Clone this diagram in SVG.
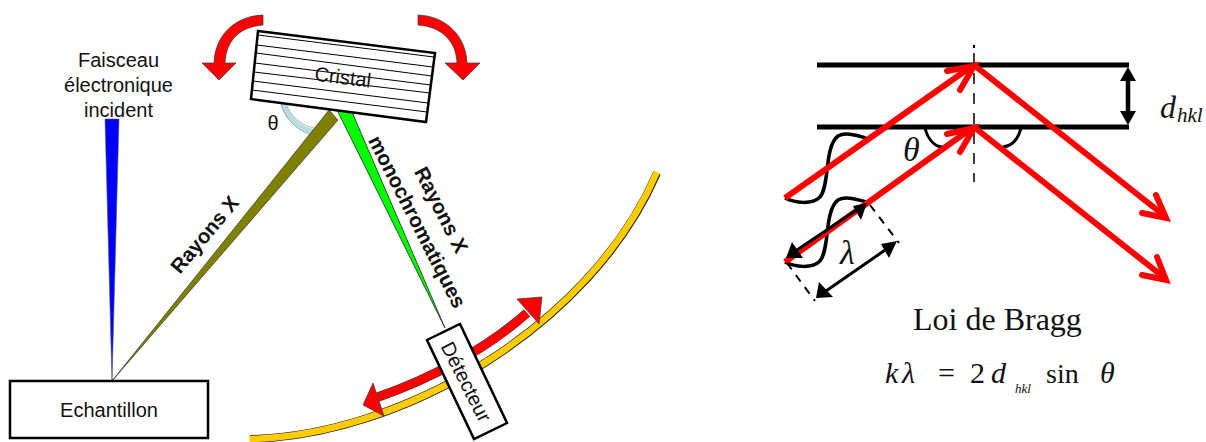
<svg xmlns="http://www.w3.org/2000/svg" width="1206" height="442" viewBox="0 0 1206 442">
<style>
text{font-family:"Liberation Sans",Arial,sans-serif;font-size:20px;fill:#111;text-anchor:middle}
.b{font-weight:bold;font-size:20.5px}
.s{font-family:"Liberation Serif","Times New Roman",serif;font-size:30px;text-anchor:start}
.i{font-style:italic}
.box{fill:#fff;stroke:#000;stroke-width:2.5}
.cl{stroke:#000;stroke-width:1;fill:none}
.red{fill:#f00;stroke:#333;stroke-width:.7}
.ray{stroke:#f00;stroke-width:6;fill:none}
.hd{stroke:#f00;stroke-width:6;fill:none;stroke-linecap:round;stroke-linejoin:miter}
.bk{stroke:#000;fill:none}
.af{fill:#000}
</style>
<g id="beam-incident"><polygon points="105,119 119,119 112,381" fill="#00f" stroke="#555" stroke-width=".6"/></g>
<g id="faisceau-label"><text x="118.500" y="67">Faisceau</text><text x="118.500" y="92">électronique</text><text x="118.500" y="117">incident</text></g>
<g id="connectors">
<path d="M283,104 C288,118 298,128 313,132" fill="none" stroke="#b7dde3" stroke-width="5.500"/>
<path d="M281,104 C286,120 297,131 313,135.500 M286,104 C291,116 300,125 314,128" fill="none" stroke="#888" stroke-width=".6"/>
<polygon points="112,381 329,110 338,120" fill="#808000" stroke="#333" stroke-width=".7"/>
<polygon points="445,328 337,110 352,112" fill="#0f0" stroke="#222" stroke-width=".8"/>
<path d="M250,439 C400,436 590,328 657,173" fill="none" stroke="#222" stroke-width="8"/>
<path d="M249.500,439 C400,436 590,328 657,172" fill="none" stroke="#fc0" stroke-width="6.500"/>
<path d="M378,397 C430,379 485,350 527,313" fill="none" stroke="#333" stroke-width="9.500"/>
<path d="M378,397 C430,379 485,350 527,313" fill="none" stroke="#f00" stroke-width="8.500"/>
<polygon class="red" points="363,405 373,383 384,416"/>
<polygon class="red" points="542,297 517,299 539,324"/>
<path class="red" d="M263,15 V25 C238,27 226,42 225,63 H236 L219,80 L202,63 H214 C215,35 235,16 263,15Z"/>
<path class="red" d="M418,15 C445,16 466,35 467,63 H480 L463,80 L445,63 H457 C456,42 443,27 418,25Z"/>
</g>
<g id="cristal">
<polygon class="box" points="258,31 435,53 426,122 251,99"/>
<path class="cl" d="M258,35 L434,57 M257,45 L433,67 M256,53 L432,76 M255,63 L431,85 M254,72 L430,93 M253,81 L428,103 M252,90 L427,112"/>
<text transform="translate(342,84) rotate(7)">Cristal</text>
</g>
<g id="theta-label"><text x="273" y="130">θ</text></g>
<g id="rayons-x-label"><text class="b" transform="translate(210,239) rotate(-50)">Rayons X</text></g>
<g id="mono-label"><text class="b" transform="translate(435,213) rotate(63)">Rayons X</text><text class="b" transform="translate(411,225) rotate(63)">monochromatiques</text></g>
<g id="detecteur"><polygon class="box" points="427,340 460,324 507,423 474,439"/><text transform="translate(460,385) rotate(63)">Détecteur</text></g>
<g id="echantillon"><rect class="box" x="10" y="381" width="198" height="57"/><text x="109" y="417">Echantillon</text></g>
<g id="bragg">
<path d="M817,65 H1129 M817,127 H1129" stroke="#000" stroke-width="5" fill="none"/>
<path d="M974,45 V48" stroke="#000" stroke-width="2"/>
<path d="M974,53 V182" stroke="#000" stroke-width="1.500" stroke-dasharray="11,9"/>
<path class="bk" stroke-width="4.500" d="M1128,78 V114"/>
<polygon class="af" points="1128,67 1136,81 1120,81"/>
<polygon class="af" points="1128,125 1136,111 1120,111"/>
<path class="bk" stroke-width="3" d="M925,128 C928,140 935,146 942,147 M1021,128 C1018,140 1011,146 1003,147"/>
<path class="bk" stroke-width="3.500" d="M785,198 C795,203 812,205 820,197 C830,185 824,147 838,136 C845,132 855,135 866,138"/>
<path class="bk" stroke-width="3.500" d="M785,262 C795,267 812,269 820,261 C830,249 824,211 838,200 C845,196 855,199 867,202"/>
<path class="ray" d="M785,198 L972,66 M785,262 L972,128 M974,65 L1166,217 M974,127 L1166,279"/>
<path class="hd" d="M947,71 L974,66 L960,90 M947,134 L974,128 L960,152 M1156,195 L1166,218 L1142,213 M1157,257 L1166,280 L1142,275"/>
<path class="bk" stroke-width="3" d="M797,250 L858,209 M826,291 L888,248"/>
<polygon class="af" points="786,258 792,242 803,258"/>
<polygon class="af" points="867,203 853,206 861,220"/>
<polygon class="af" points="816,298 819,282 833,297"/>
<polygon class="af" points="897,241 881,244 889,258"/>
<path class="bk" stroke-width="2" stroke-dasharray="8,7" d="M787,263 L815,301 M870,205 L899,243"/>
<text class="s i" x="903" y="161" style="font-size:34px">θ</text>
<text class="s i" x="840" y="264" style="font-size:34px">λ</text>
<text class="s i" x="1160" y="118" style="font-size:32px">d</text><text class="s i" x="1177" y="122" style="font-size:21px">hkl</text>
<text class="s" x="913" y="330" style="font-size:32px">Loi de Bragg</text>
<text class="s i" x="885" y="383">k</text><text class="s i" x="902" y="383">λ</text>
<text class="s" x="938" y="383">=</text><text class="s" x="970" y="383">2</text>
<text class="s i" x="991" y="383">d</text><text class="s i" x="1015" y="393" style="font-size:13px">hkl</text>
<text class="s" x="1046" y="383" style="font-size:28px">sin</text><text class="s i" x="1100" y="383">θ</text>
</g>
</svg>
